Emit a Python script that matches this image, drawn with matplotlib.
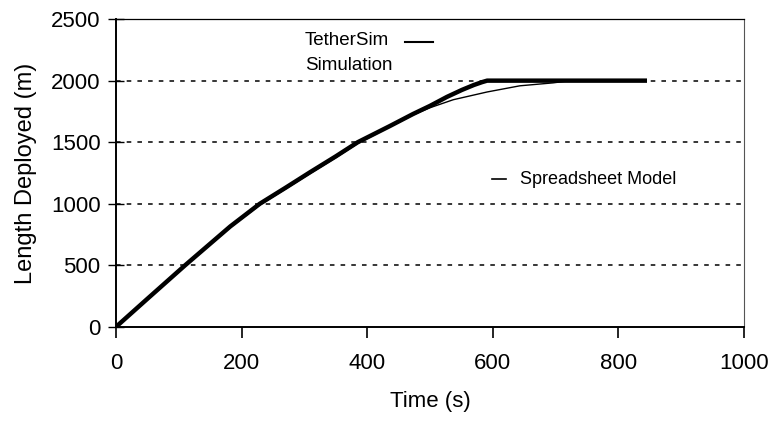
import matplotlib
matplotlib.use("Agg")
import matplotlib.pyplot as plt

plt.rcParams['font.family'] = ['Liberation Sans', 'DejaVu Sans']

# TetherSim simulation (thick)
t_sim = [0, 50, 110, 182, 229, 270, 309, 350, 385, 436, 473, 500, 527, 551, 570, 583, 591, 700, 842]
L_sim = [0, 228, 500, 816, 1000, 1130, 1256, 1385, 1500, 1631, 1729, 1795, 1868, 1925, 1965, 1988, 2000, 2000, 2000]

# Spreadsheet model (thin)
t_model = [0, 50, 110, 182, 229, 270, 309, 350, 385, 436, 473, 500, 537, 591, 643, 696, 720, 842]
L_model = [0, 222, 494, 808, 990, 1120, 1245, 1374, 1490, 1625, 1722, 1780, 1845, 1908, 1958, 1982, 1998, 2000]

xticks = [0, 200, 400, 600, 800, 1000]
yticks = [0, 500, 1000, 1500, 2000, 2500]

fig = plt.figure(figsize=(7.73, 4.24), dpi=100)
ax = fig.add_axes([0.150, 0.229, 0.8125, 0.726])

for y in yticks[1:-1]:
    ax.axhline(y, color='black', lw=1.1, ls=(0, (3, 4)), zorder=1)

ax.plot(t_sim, L_sim, color='black', lw=3.2, zorder=2, solid_joinstyle='round')
ax.plot(t_model, L_model, color='black', lw=1.0, zorder=3)

ax.set_xlim(0, 1000)
ax.set_ylim(0, 2500)
ax.set_xticks(xticks)
ax.set_yticks(yticks)
ax.tick_params(axis='x', direction='out', length=8, width=1.2, pad=11, labelsize=16)
ax.tick_params(axis='y', direction='inout', length=12, width=1.0, pad=5, labelsize=16)

for s in ['left', 'bottom']:
    ax.spines[s].set_linewidth(1.4)
ax.spines['top'].set_linewidth(0.9)
ax.spines['right'].set_linewidth(0.8)
ax.spines['right'].set_linestyle((0, (2, 1)))
ax.spines['right'].set_color('#555555')

ax.set_xlabel('Time (s)', fontsize=16, labelpad=12)
ax.set_ylabel('Length Deployed (m)', fontsize=17, labelpad=10)

# in-plot legend-like labels
ax.text(301, 2325, 'TetherSim', fontsize=13.5, va='center', ha='left')
ax.plot([460, 505], [2317, 2317], color='black', lw=1.5)
ax.text(301, 2121, 'Simulation', fontsize=13.5, va='center', ha='left')
ax.plot([599, 621], [1199, 1199], color='black', lw=1.2)
ax.text(643, 1199, 'Spreadsheet Model', fontsize=13, va='center', ha='left')

fig.savefig('out.png', dpi=100)
